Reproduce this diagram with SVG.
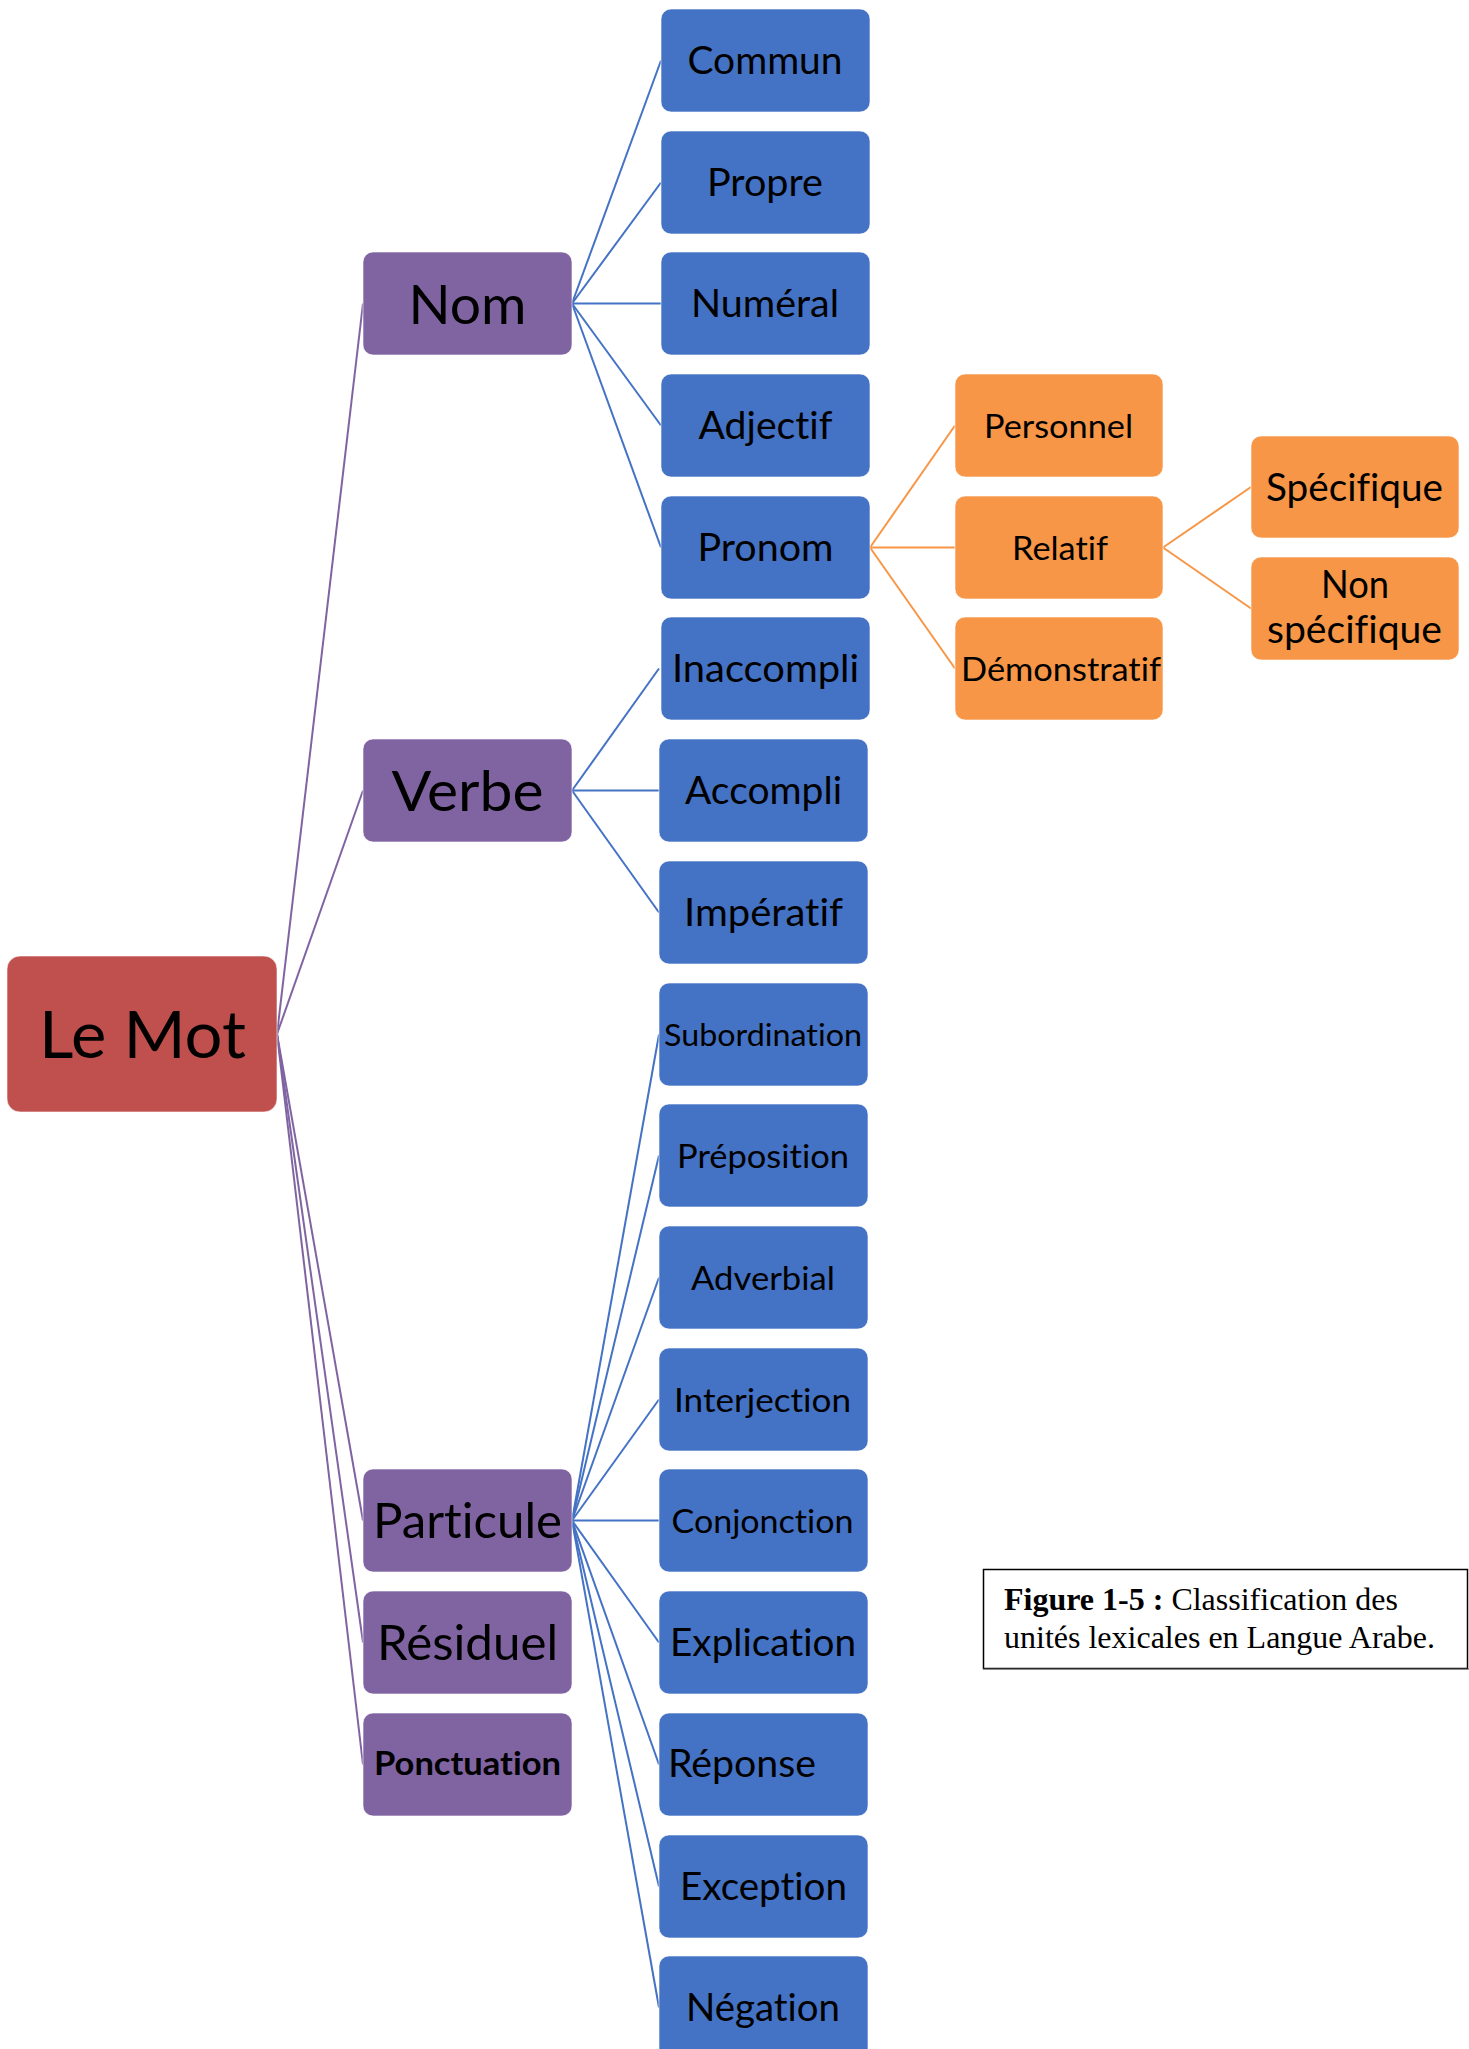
<svg xmlns="http://www.w3.org/2000/svg" width="1469" height="2049" viewBox="0 0 1469 2049">
  <style>
    .box { stroke: #ffffff; stroke-opacity: 0.6; stroke-width: 1; }
    .root { fill: #C0504D; }
    .cat { fill: #8064A2; }
    .leaf { fill: #4472C4; }
    .sub { fill: #F79646; }
    .lbl { font-family: Lato, "Open Sans", "Liberation Sans", sans-serif; fill: #000000; text-anchor: middle; font-variant-ligatures: none; }
    .a { font-size: 37.8px; }
    .b { font-size: 33.3px; }
    .edge { fill: none; stroke-width: 2; }
    .e-cat { stroke: #8064A2; }
    .e-leaf { stroke: #4472C4; }
    .e-sub { stroke: #F79646; }
    .cap { font-family: "Liberation Serif", "Times New Roman", serif; font-size: 32px; fill: #000000; }
  </style>

  <rect width="1469" height="2049" fill="#ffffff"/>

  <!-- connectors -->
  <g id="connectors">
    <g class="edge e-cat">
      <line x1="277" y1="1034" x2="363" y2="303.5"/>
      <line x1="277" y1="1034" x2="363" y2="790.5"/>
      <line x1="277" y1="1034" x2="363" y2="1520.5"/>
      <line x1="277" y1="1034" x2="363" y2="1642.5"/>
      <line x1="277" y1="1034" x2="363" y2="1764.5"/>
    </g>
    <g class="edge e-leaf">
      <line x1="572" y1="303.5" x2="661" y2="60.5"/>
      <line x1="572" y1="303.5" x2="661" y2="182.5"/>
      <line x1="572" y1="303.5" x2="661" y2="303.5"/>
      <line x1="572" y1="303.5" x2="661" y2="425.5"/>
      <line x1="572" y1="303.5" x2="661" y2="547.5"/>

      <line x1="572" y1="790.5" x2="659" y2="668.5"/>
      <line x1="572" y1="790.5" x2="659" y2="790.5"/>
      <line x1="572" y1="790.5" x2="659" y2="912.5"/>

      <line x1="572" y1="1520.5" x2="659" y2="1034.5"/>
      <line x1="572" y1="1520.5" x2="659" y2="1155.5"/>
      <line x1="572" y1="1520.5" x2="659" y2="1277.5"/>
      <line x1="572" y1="1520.5" x2="659" y2="1399.5"/>
      <line x1="572" y1="1520.5" x2="659" y2="1520.5"/>
      <line x1="572" y1="1520.5" x2="659" y2="1642.5"/>
      <line x1="572" y1="1520.5" x2="659" y2="1764.5"/>
      <line x1="572" y1="1520.5" x2="659" y2="1886.5"/>
      <line x1="572" y1="1520.5" x2="659" y2="2007.5"/>
    </g>
    <g class="edge e-sub">
      <line x1="870" y1="547.5" x2="955" y2="425.5"/>
      <line x1="870" y1="547.5" x2="955" y2="547.5"/>
      <line x1="870" y1="547.5" x2="955" y2="668.5"/>
      <line x1="1163" y1="547.5" x2="1251" y2="487"/>
      <line x1="1163" y1="547.5" x2="1251" y2="608.5"/>
    </g>
  </g>

  <!-- root -->
  <g id="le-mot">
    <rect class="box root" x="7" y="956" width="270" height="156" rx="13"/>
    <text class="lbl" x="142.5" y="1058" font-size="65.7" textLength="207" lengthAdjust="spacingAndGlyphs">Le Mot</text>
  </g>

  <!-- categories -->
  <g id="nom">
    <rect class="box cat" x="363" y="252" width="209" height="103" rx="10"/>
    <text class="lbl" x="467.5" y="324" font-size="54" textLength="118" lengthAdjust="spacingAndGlyphs">Nom</text>
  </g>
  <g id="verbe">
    <rect class="box cat" x="363" y="739" width="209" height="103" rx="10"/>
    <text class="lbl" x="467.5" y="810.5" font-size="55.8" textLength="152" lengthAdjust="spacingAndGlyphs">Verbe</text>
  </g>
  <g id="particule">
    <rect class="box cat" x="363" y="1469" width="209" height="103" rx="10"/>
    <text class="lbl" x="467.5" y="1537.5" font-size="47.4" textLength="189" lengthAdjust="spacingAndGlyphs">Particule</text>
  </g>
  <g id="residuel">
    <rect class="box cat" x="363" y="1591" width="209" height="103" rx="10"/>
    <text class="lbl" x="467.5" y="1659.5" font-size="47.4" textLength="181" lengthAdjust="spacingAndGlyphs">Résiduel</text>
  </g>
  <g id="ponctuation">
    <rect class="box cat" x="363" y="1713" width="209" height="103" rx="10"/>
    <text class="lbl" x="467.5" y="1775" font-size="33.3" font-weight="bold" textLength="187" lengthAdjust="spacingAndGlyphs">Ponctuation</text>
  </g>

  <!-- Nom subclasses -->
  <g id="commun">
    <rect class="box leaf" x="661" y="9" width="209" height="103" rx="10"/>
    <text class="lbl a" x="765" y="74" textLength="155" lengthAdjust="spacingAndGlyphs">Commun</text>
  </g>
  <g id="propre">
    <rect class="box leaf" x="661" y="131" width="209" height="103" rx="10"/>
    <text class="lbl a" x="765" y="196" textLength="116" lengthAdjust="spacingAndGlyphs">Propre</text>
  </g>
  <g id="numeral">
    <rect class="box leaf" x="661" y="252" width="209" height="103" rx="10"/>
    <text class="lbl a" x="765" y="317" textLength="148" lengthAdjust="spacingAndGlyphs">Numéral</text>
  </g>
  <g id="adjectif">
    <rect class="box leaf" x="661" y="374" width="209" height="103" rx="10"/>
    <text class="lbl a" x="765.5" y="439" textLength="134" lengthAdjust="spacingAndGlyphs">Adjectif</text>
  </g>
  <g id="pronom">
    <rect class="box leaf" x="661" y="496" width="209" height="103" rx="10"/>
    <text class="lbl a" x="765.5" y="561" textLength="136" lengthAdjust="spacingAndGlyphs">Pronom</text>
  </g>

  <!-- Verbe subclasses -->
  <g id="inaccompli">
    <rect class="box leaf" x="661" y="617" width="209" height="103" rx="10"/>
    <text class="lbl a" x="765.5" y="682" textLength="187" lengthAdjust="spacingAndGlyphs">Inaccompli</text>
  </g>
  <g id="accompli">
    <rect class="box leaf" x="659" y="739" width="209" height="103" rx="10"/>
    <text class="lbl a" x="763.5" y="804" textLength="157" lengthAdjust="spacingAndGlyphs">Accompli</text>
  </g>
  <g id="imperatif">
    <rect class="box leaf" x="659" y="861" width="209" height="103" rx="10"/>
    <text class="lbl a" x="763.5" y="926" textLength="159" lengthAdjust="spacingAndGlyphs">Impératif</text>
  </g>

  <!-- Particule subclasses -->
  <g id="subordination">
    <rect class="box leaf" x="659" y="983" width="209" height="103" rx="10"/>
    <text class="lbl" x="763" y="1045.5" font-size="30.6" textLength="198" lengthAdjust="spacingAndGlyphs">Subordination</text>
  </g>
  <g id="preposition">
    <rect class="box leaf" x="659" y="1104" width="209" height="103" rx="10"/>
    <text class="lbl b" x="763" y="1167.5" textLength="172" lengthAdjust="spacingAndGlyphs">Préposition</text>
  </g>
  <g id="adverbial">
    <rect class="box leaf" x="659" y="1226" width="209" height="103" rx="10"/>
    <text class="lbl b" x="763" y="1289.5" textLength="144" lengthAdjust="spacingAndGlyphs">Adverbial</text>
  </g>
  <g id="interjection">
    <rect class="box leaf" x="659" y="1348" width="209" height="103" rx="10"/>
    <text class="lbl b" x="762.5" y="1411.5" textLength="177" lengthAdjust="spacingAndGlyphs">Interjection</text>
  </g>
  <g id="conjonction">
    <rect class="box leaf" x="659" y="1469" width="209" height="103" rx="10"/>
    <text class="lbl b" x="762.5" y="1532.5" textLength="182" lengthAdjust="spacingAndGlyphs">Conjonction</text>
  </g>
  <g id="explication">
    <rect class="box leaf" x="659" y="1591" width="209" height="103" rx="10"/>
    <text class="lbl a" x="763" y="1656" textLength="186" lengthAdjust="spacingAndGlyphs">Explication</text>
  </g>
  <g id="reponse">
    <rect class="box leaf" x="659" y="1713" width="209" height="103" rx="10"/>
    <text class="lbl a" x="668" y="1777" style="text-anchor:start" textLength="148" lengthAdjust="spacingAndGlyphs">Réponse</text>
  </g>
  <g id="exception">
    <rect class="box leaf" x="659" y="1835" width="209" height="103" rx="10"/>
    <text class="lbl a" x="763.5" y="1900" textLength="167" lengthAdjust="spacingAndGlyphs">Exception</text>
  </g>
  <g id="negation">
    <rect class="box leaf" x="659" y="1956" width="209" height="103" rx="10"/>
    <text class="lbl a" x="763" y="2021" textLength="154" lengthAdjust="spacingAndGlyphs">Négation</text>
  </g>

  <!-- Pronom subclasses -->
  <g id="personnel">
    <rect class="box sub" x="955" y="374" width="208" height="103" rx="10"/>
    <text class="lbl b" x="1058.5" y="437.5" textLength="149" lengthAdjust="spacingAndGlyphs">Personnel</text>
  </g>
  <g id="relatif">
    <rect class="box sub" x="955" y="496" width="208" height="103" rx="10"/>
    <text class="lbl b" x="1060" y="559.5" textLength="96" lengthAdjust="spacingAndGlyphs">Relatif</text>
  </g>
  <g id="demonstratif">
    <rect class="box sub" x="955" y="617" width="208" height="103" rx="10"/>
    <text class="lbl b" x="1061" y="680.5" textLength="200" lengthAdjust="spacingAndGlyphs">Démonstratif</text>
  </g>

  <!-- Relatif subclasses -->
  <g id="specifique">
    <rect class="box sub" x="1251" y="436" width="208" height="102" rx="10"/>
    <text class="lbl a" x="1354.5" y="500.5" textLength="177" lengthAdjust="spacingAndGlyphs">Spécifique</text>
  </g>
  <g id="non-specifique">
    <rect class="box sub" x="1251" y="557" width="208" height="103" rx="10"/>
    <text class="lbl a" x="1355" y="597.5" textLength="68" lengthAdjust="spacingAndGlyphs">Non</text>
    <text class="lbl a" x="1354.5" y="643" textLength="175" lengthAdjust="spacingAndGlyphs">spécifique</text>
  </g>

  <!-- caption -->
  <g id="caption">
    <rect x="983.5" y="1569.5" width="484" height="99" fill="#ffffff" stroke="#000000" stroke-width="1.5"/>
    <line x1="983" y1="1669" x2="1469" y2="1669" stroke="#555555" stroke-width="1"/>
    <text class="cap" x="1004" y="1610"><tspan font-weight="bold">Figure 1-5 :</tspan> Classification des</text>
    <text class="cap" x="1004" y="1648">unités lexicales en Langue Arabe.</text>
  </g>
</svg>
